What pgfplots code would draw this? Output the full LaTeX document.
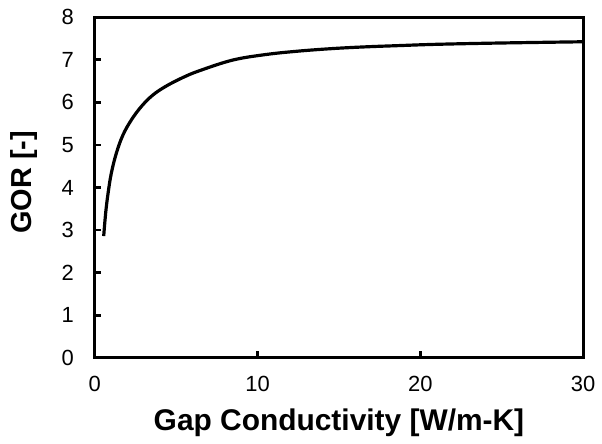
\documentclass[border=0pt]{standalone}
\usepackage{pgfplots}
\pgfplotsset{compat=1.18}
\usepackage{fontspec}
\setmainfont{Liberation Sans}
\begin{document}
\begin{tikzpicture}
\begin{axis}[
  scale only axis,
  width=245pt,
  height=171pt,
  xmin=0, xmax=30,
  ymin=0, ymax=8,
  xtick={0,10,20,30},
  ytick={0,1,...,8},
  xtick pos=bottom,
  ytick pos=left,
  tick align=inside,
  major tick length=3.3pt,
  tick style={black, line width=1.3pt},
  axis line style={black, line width=1.5pt},
  tick label style={font=\fontsize{11}{13}\selectfont},
  xticklabel style={yshift=-5.5pt},
  yticklabel style={xshift=-7pt},
  /pgf/number format/assume math mode=true,
  xlabel={\textbf{Gap Conductivity [W/m-K]}},
  ylabel={\textbf{GOR [-]}},
  xlabel style={font=\fontsize{15}{17}\selectfont,
    at={(axis description cs:0.5,-0.19)}, anchor=center},
  ylabel style={font=\fontsize{14.5}{17}\selectfont,
    at={(axis description cs:-0.144,0.515)}, anchor=center},
  clip=false
]
\addplot[black, line width=1.6pt, smooth, tension=0.6] coordinates {
  (0.55,2.86) (0.67,3.40) (0.82,3.87) (1.02,4.34) (1.33,4.81)
  (1.73,5.23) (2.24,5.58) (2.86,5.90) (3.57,6.17) (4.39,6.38)
  (5.41,6.58) (6.43,6.74) (8.47,6.99) (10.5,7.12) (12.5,7.20)
  (14.6,7.26) (16.6,7.30) (18.7,7.33) (21.0,7.36) (24.8,7.39)
  (30.0,7.42)
};
% page frame matching the reference margins
\path (rel axis cs:-0.194,-0.225) rectangle (rel axis cs:1.035,1.05);
\end{axis}
\end{tikzpicture}
\end{document}
